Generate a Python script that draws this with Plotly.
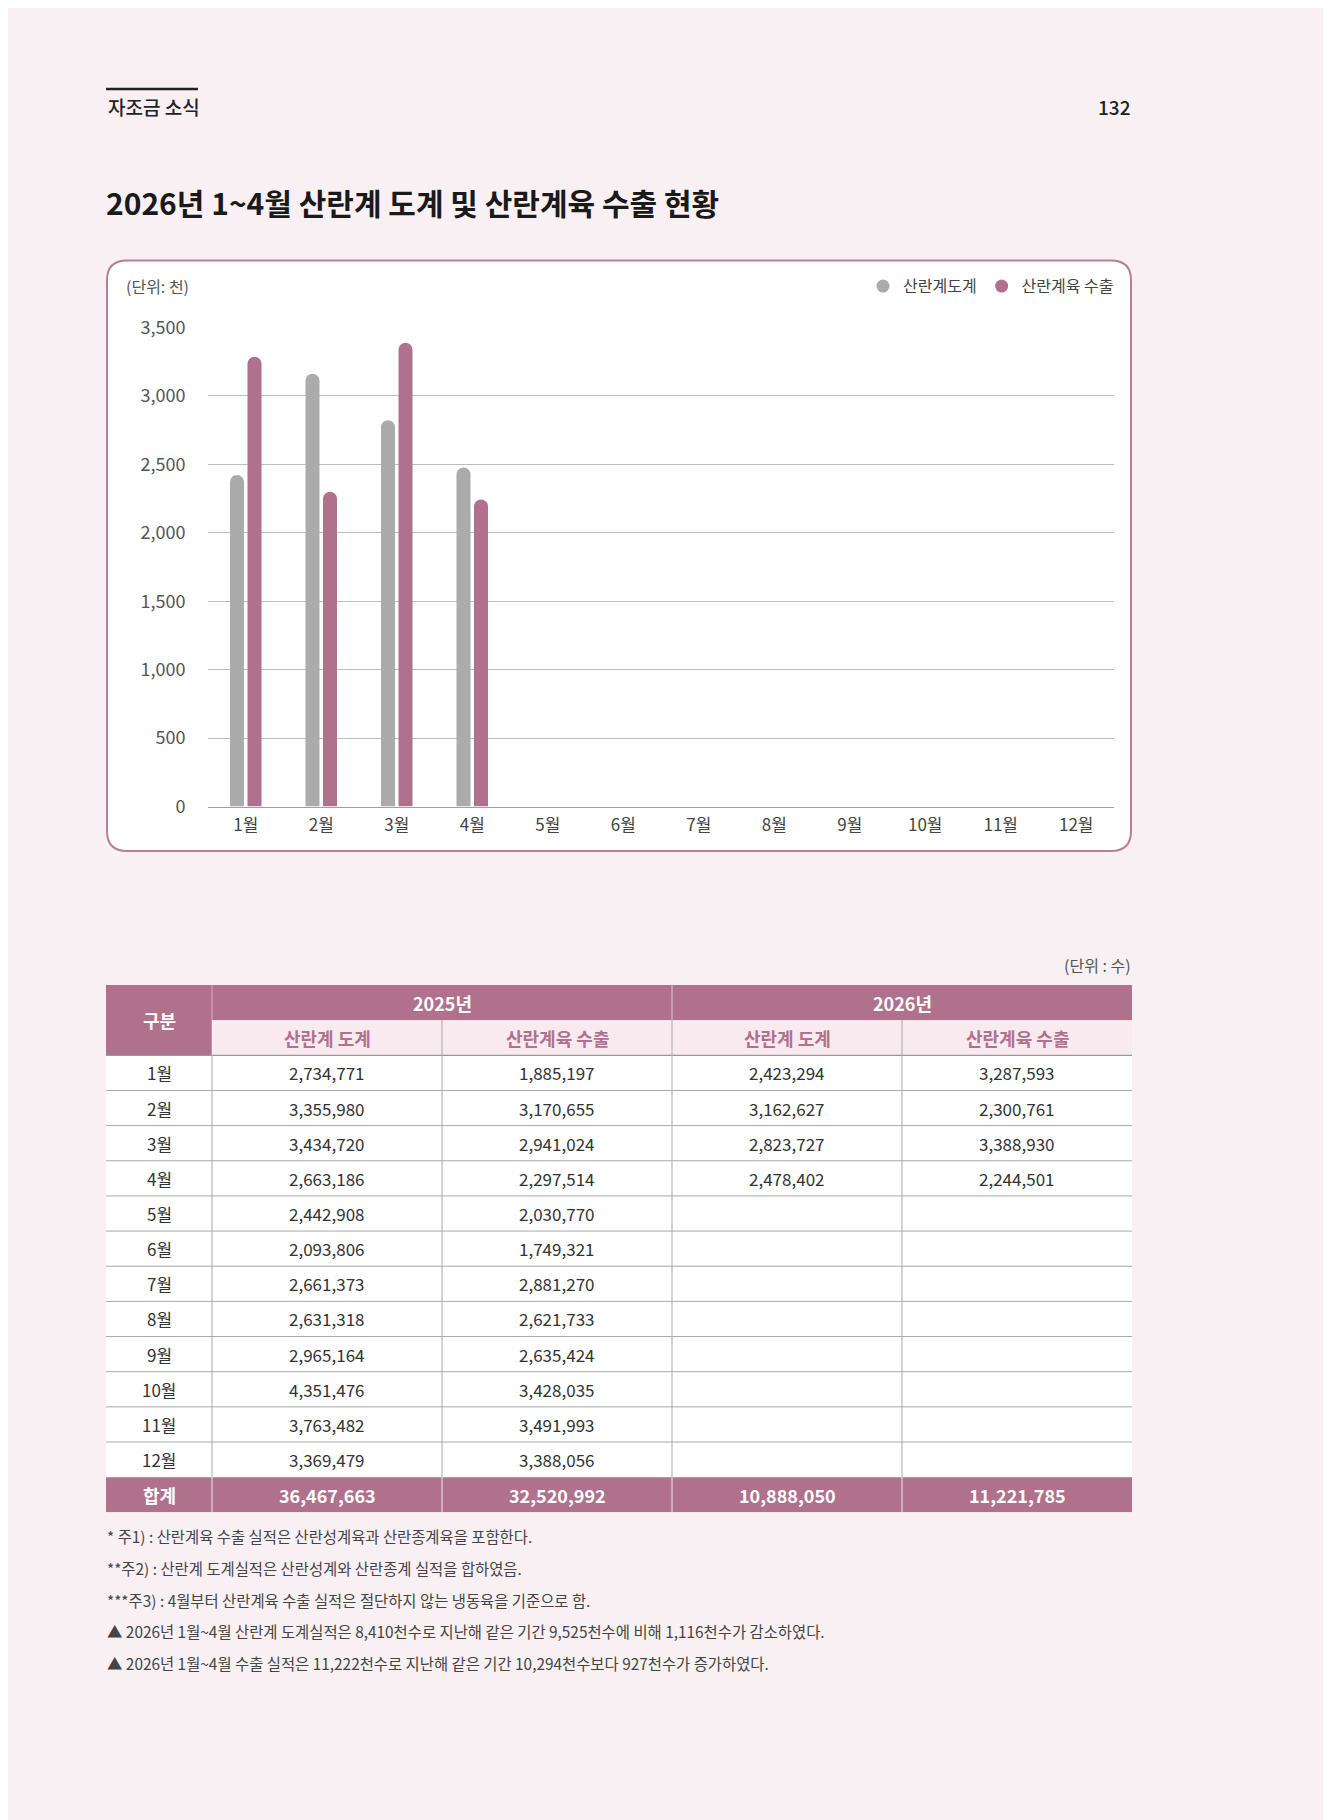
import plotly.graph_objects as go

# ---------------- data ----------------
months = ["1월", "2월", "3월", "4월", "5월", "6월", "7월", "8월", "9월", "10월", "11월", "12월"]
series_names = ["산란계도계", "산란계육 수출"]

slaughter_2025 = [2734771, 3355980, 3434720, 2663186, 2442908, 2093806,
                  2661373, 2631318, 2965164, 4351476, 3763482, 3369479]
export_2025 = [1885197, 3170655, 2941024, 2297514, 2030770, 1749321,
               2881270, 2621733, 2635424, 3428035, 3491993, 3388056]
slaughter_2026 = [2423294, 3162627, 2823727, 2478402]
export_2026 = [3287593, 2300761, 3388930, 2244501]
total_row = [36467663, 32520992, 10888050, 11221785]

y_ticks = [0, 500, 1000, 1500, 2000, 2500, 3000, 3500]

year_headers = ["2025년", "2026년"]
sub_headers = ["산란계 도계", "산란계육 수출", "산란계 도계", "산란계육 수출"]
first_col_header = "구분"
total_label = "합계"

header_left = "자조금 소식"
page_no = "132"
title = "2026년 1~4월 산란계 도계 및 산란계육 수출 현황"
chart_unit = "(단위: 천)"
table_unit = "(단위 : 수)"
footnotes = [
    "* 주1) : 산란계육 수출 실적은 산란성계육과 산란종계육을 포함한다.",
    "**주2) : 산란계 도계실적은 산란성계와 산란종계 실적을 합하였음.",
    "***주3) : 4월부터 산란계육 수출 실적은 절단하지 않는 냉동육을 기준으로 함.",
    "▲ 2026년 1월~4월 산란계 도계실적은 8,410천수로 지난해 같은 기간 9,525천수에 비해 1,116천수가 감소하였다.",
    "▲ 2026년 1월~4월 수출 실적은 11,222천수로 지난해 같은 기간 10,294천수보다 927천수가 증가하였다.",
]

# ---------------- style ----------------
OFF = 8                      # page body margin of the html
W, H = 1331 - OFF, 1820 - OFF
FONT = "Noto Sans CJK KR"
BG = "#F8F0F3"
MAUVE = "#B0718C"
GRAY_BAR = "#ABABAB"
PINK_LIGHT = "#F9EAF0"
LINE_GRAY = "#A9A9A9"
TEXT = "#333333"


def px(x):
    return (x - OFF) / W


def py(y):
    return 1 - (y - OFF) / H


fig = go.Figure()

# bars (values shown in thousands)
fig.add_trace(go.Bar(
    x=months[:len(slaughter_2026)], y=[v / 1000 for v in slaughter_2026],
    name=series_names[0], marker=dict(color=GRAY_BAR, cornerradius="50%", line=dict(width=0)),
    showlegend=False, xaxis="x", yaxis="y"))
fig.add_trace(go.Bar(
    x=months[:len(export_2026)], y=[v / 1000 for v in export_2026],
    name=series_names[1], marker=dict(color=MAUVE, cornerradius="50%", line=dict(width=0)),
    showlegend=False, xaxis="x", yaxis="y"))
# legend entries with round markers
for nm, col in zip(series_names, [GRAY_BAR, MAUVE]):
    fig.add_trace(go.Scatter(x=[None], y=[None], mode="markers", name=nm,
                             marker=dict(color=col, size=13, symbol="circle"),
                             xaxis="x", yaxis="y"))

shapes = []
annotations = []

# chart box
x0, y0, x1, y1, r = 107, 249, 1131, 848, 20
path = (f"M {px(x0 + r)},{py(y0)} L {px(x1 - r)},{py(y0)} Q {px(x1)},{py(y0)} {px(x1)},{py(y0 + r)} "
        f"L {px(x1)},{py(y1 - r)} Q {px(x1)},{py(y1)} {px(x1 - r)},{py(y1)} "
        f"L {px(x0 + r)},{py(y1)} Q {px(x0)},{py(y1)} {px(x0)},{py(y1 - r)} "
        f"L {px(x0)},{py(y0 + r)} Q {px(x0)},{py(y0)} {px(x0 + r)},{py(y0)} Z")
shapes.append(dict(type="path", path=path, xref="paper", yref="paper",
                   fillcolor="white", line=dict(color="#B67F95", width=2), layer="below"))

# header rule
shapes.append(dict(type="line", xref="paper", yref="paper", x0=px(106), x1=px(198),
                   y0=py(75), y1=py(75), line=dict(color="#222222", width=2.5)))

annotations += [
    dict(text=header_left, x=px(106), y=py(93), xref="paper", yref="paper", xanchor="left",
         yanchor="middle", showarrow=False, font=dict(family=FONT, size=19, color="#222222", weight=500)),
    dict(text=page_no, x=px(1133), y=py(93), xref="paper", yref="paper", xanchor="right",
         yanchor="middle", showarrow=False, font=dict(family=FONT, size=19, color="#222222", weight=500)),
    dict(text=title, x=px(104), y=py(190), xref="paper", yref="paper", xanchor="left",
         yanchor="middle", showarrow=False, font=dict(family=FONT, size=30, color="#1a1a1a", weight=700)),
    dict(text=chart_unit, x=px(124), y=py(275), xref="paper", yref="paper", xanchor="left",
         yanchor="middle", showarrow=False, font=dict(family=FONT, size=16, color="#555555")),
    dict(text=table_unit, x=px(1133), y=py(964), xref="paper", yref="paper", xanchor="right",
         yanchor="middle", showarrow=False, font=dict(family=FONT, size=16, color="#555555")),
]

# ---------------- table (drawn on axes x2/y2) ----------------
col_w = [106, 230, 230, 230, 230]
edges = [0]
for w in col_w:
    edges.append(edges[-1] + w)
n_rows = 2 + len(months) + 1


def rect(c0, c1, r0, r1, color):
    shapes.append(dict(type="rect", xref="x2", yref="y2", x0=edges[c0], x1=edges[c1],
                       y0=r0, y1=r1, fillcolor=color, line=dict(width=0), layer="above"))


def hline(yv, c0, c1, color, w=1):
    shapes.append(dict(type="line", xref="x2", yref="y2", x0=edges[c0], x1=edges[c1],
                       y0=yv, y1=yv, line=dict(color=color, width=w), layer="above"))


def vline(c, r0, r1, color, w=1):
    shapes.append(dict(type="line", xref="x2", yref="y2", x0=edges[c], x1=edges[c],
                       y0=r0, y1=r1, line=dict(color=color, width=w), layer="above"))


def cell_text(c0, c1, rmid, text, color, size=17, weight=400):
    annotations.append(dict(text=text, x=(edges[c0] + edges[c1]) / 2, y=rmid, xref="x2", yref="y2",
                            xanchor="center", yanchor="middle", showarrow=False,
                            font=dict(family=FONT, size=size, color=color, weight=weight)))


rect(0, 5, 2, n_rows - 1, "white")
rect(0, 1, 0, 2, MAUVE)
rect(1, 5, 0, 1, MAUVE)
rect(1, 5, 1, 2, PINK_LIGHT)
rect(0, 5, n_rows - 1, n_rows, MAUVE)

for rr in range(3, n_rows - 1):
    hline(rr, 0, 5, LINE_GRAY, 1)
hline(2, 0, 5, "#999999", 1.2)
vline(1, 2, n_rows - 1, LINE_GRAY, 1)
for c in range(2, 5):
    vline(c, 1, n_rows - 1, LINE_GRAY, 1)
vline(1, 0, 2, "rgba(255,255,255,0.45)", 1)
vline(3, 0, 1, "rgba(255,255,255,0.6)", 1)
for c in range(1, 5):
    vline(c, n_rows - 1, n_rows, "rgba(255,255,255,0.85)", 1)

cell_text(0, 1, 1, first_col_header, "white", 18, 700)
cell_text(1, 3, 0.5, year_headers[0], "white", 18, 700)
cell_text(3, 5, 0.5, year_headers[1], "white", 18, 700)
for i, s in enumerate(sub_headers):
    cell_text(i + 1, i + 2, 1.5, s, MAUVE, 18, 700)

for i, m in enumerate(months):
    rm = 2.5 + i
    cell_text(0, 1, rm, m, TEXT, 17)
    cell_text(1, 2, rm, f"{slaughter_2025[i]:,}", TEXT, 17)
    cell_text(2, 3, rm, f"{export_2025[i]:,}", TEXT, 17)
    if i < len(slaughter_2026):
        cell_text(3, 4, rm, f"{slaughter_2026[i]:,}", TEXT, 17)
    if i < len(export_2026):
        cell_text(4, 5, rm, f"{export_2026[i]:,}", TEXT, 17)

cell_text(0, 1, n_rows - 0.5, total_label, "white", 18, 700)
for i, v in enumerate(total_row):
    cell_text(i + 1, i + 2, n_rows - 0.5, f"{v:,}", "white", 18, 700)

# footnotes
for i, t in enumerate(footnotes):
    annotations.append(dict(text=t, x=px(105), y=py(1543 + i * 32.3), xref="paper", yref="paper",
                            xanchor="left", yanchor="middle", showarrow=False,
                            font=dict(family=FONT, size=15.4, color="#444444")))

fig.update_layout(
    width=W, height=H,
    margin=dict(l=0, r=0, t=0, b=0),
    paper_bgcolor=BG,
    plot_bgcolor="rgba(255,255,255,0)",
    font=dict(family=FONT, color=TEXT),
    barmode="group", bargap=0.536, bargroupgap=0.2,
    showlegend=True,
    legend=dict(orientation="h", x=px(1119), xanchor="right", y=py(275), yanchor="middle",
                bgcolor="rgba(0,0,0,0)", font=dict(family=FONT, size=16, color="#444444"),
                itemclick=False, itemdoubleclick=False, traceorder="normal"),
    xaxis=dict(domain=[px(208), px(1114)], categoryorder="array", categoryarray=months,
               range=[-0.5, len(months) - 0.5], showgrid=False, showline=True,
               linecolor="#A0A0A0", linewidth=1, tickfont=dict(family=FONT, size=17, color="#444444"),
               ticks="outside", ticklen=3, tickcolor="rgba(0,0,0,0)", fixedrange=True, anchor="y"),
    yaxis=dict(domain=[py(803), py(317)], range=[0, 3500], tickvals=y_ticks, tickformat=",d",
               showgrid=True, gridcolor="#BDBDBD", gridwidth=1, zeroline=False, showline=False,
               ticks="outside", ticklen=18, tickcolor="rgba(0,0,0,0)",
               tickfont=dict(family=FONT, size=18, color="#555555"), fixedrange=True, anchor="x"),
    xaxis2=dict(domain=[px(106), px(1132)], range=[0, edges[-1]], visible=False,
                anchor="y2", fixedrange=True),
    yaxis2=dict(domain=[py(1519), py(984)], range=[n_rows, 0], visible=False,
                anchor="x2", fixedrange=True),
    shapes=shapes,
    annotations=annotations,
)

fig.write_html("out.html", config={"displayModeBar": False})
